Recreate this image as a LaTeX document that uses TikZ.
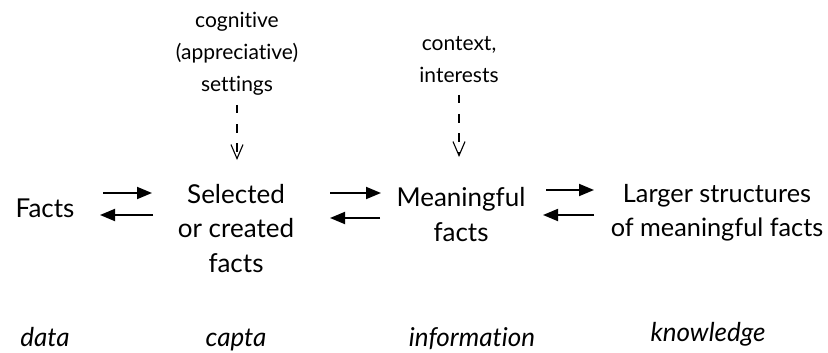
\documentclass[tikz,border=0pt]{standalone}
\usepackage{fontspec}
\setmainfont{Lato}[Ligatures={NoCommon,NoRare}]
\usetikzlibrary{arrows.meta,calc}
\begin{document}
\begin{tikzpicture}[x=1pt,y=-1pt,
  stage/.style={align=center,font=\fontsize{26}{34.5}\selectfont,inner sep=0pt,anchor=base},
  term/.style={font=\fontsize{26}{30}\itshape\selectfont,inner sep=0pt,anchor=base},
  influence/.style={align=center,font=\fontsize{21}{32}\selectfont,inner sep=0pt,anchor=base},
  flow/.style={line width=1.8pt,-{Triangle[length=15pt,width=12pt]}},
  feed/.style={line width=2.8pt,dash pattern=on 8.5pt off 10.5pt,-{Straight Barb[length=14pt,width=12pt,line width=1.1pt]}}]
\useasboundingbox (0,0) rectangle (828,353);

% the four stages (anchored at the baseline of their last line)
\node[stage] (facts) at (45,217) {Facts};
\node[stage] (capta) at (236,272) {Selected\\or created\\facts};
\node[stage] (info) at (461,241) {Meaningful\\facts};
\node[stage,font=\fontsize{25.3}{34}\selectfont] (know) at (717,236) {Larger structures\\of meaningful facts};

% forward and backward transitions
\draw[flow] ($(facts.base)+(58,-24)$) -- ($(capta.base)+(-84,-79)$);
\draw[flow] ($(capta.base)+(-83,-57)$) -- ($(facts.base)+(55,-2)$);
\draw[flow] ($(capta.base)+(94,-79)$) -- ($(info.base)+(-80,-48)$);
\draw[flow] ($(info.base)+(-81,-23)$) -- ($(capta.base)+(94,-54)$);
\draw[flow] ($(info.base)+(85,-51)$) -- ($(know.base)+(-123,-46)$);
\draw[flow] ($(know.base)+(-123,-21)$) -- ($(info.base)+(82,-26)$);

% influences from above
\node[influence] (cog) at (237,92) {cognitive\\(appreciative)\\settings};
\node[influence] (ctx) at (459,82) {context,\\interests};
\draw[feed] ($(cog.base)+(0,13)$) -- ($(capta.base)+(1,-112)$);
\draw[feed] ($(ctx.base)+(0,13)$) -- ($(info.base)+(-2,-84)$);

% names of the stages
\node[term] (data) at (45,346) {data};
\node[term] (captaname) at (236,346) {capta};
\node[term] (infoname) at (472,346) {information};
\node[term] (knowname) at (708,341) {knowledge};
\end{tikzpicture}
\end{document}
